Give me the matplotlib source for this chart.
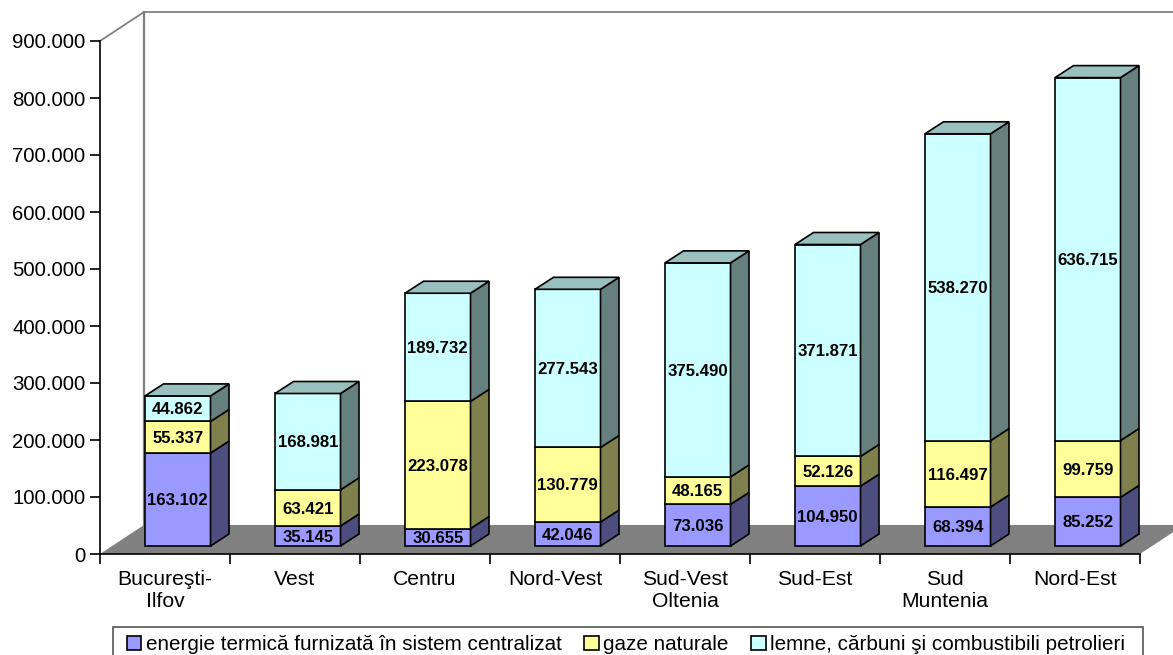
import matplotlib
matplotlib.use("Agg")
import matplotlib.pyplot as plt
from matplotlib.patches import Rectangle
from matplotlib.ticker import FuncFormatter

plt.rcParams['font.family'] = ['Liberation Sans', 'DejaVu Sans']

regions = ["Bucureşti-\nIlfov", "Vest", "Centru", "Nord-Vest", "Sud-Vest\nOltenia", "Sud-Est", "Sud\nMuntenia", "Nord-Est"]
termica = [163102, 35145, 30655, 42046, 73036, 104950, 68394, 85252]
gaze = [55337, 63421, 223078, 130779, 48165, 52126, 116497, 99759]
lemne = [44862, 168981, 189732, 277543, 375490, 371871, 538270, 636715]
series_names = ["energie termică furnizată în sistem centralizat", "gaze naturale", "lemne, cărbuni şi combustibili petrolieri"]
y_ticks = [0, 100000, 200000, 300000, 400000, 500000, 600000, 700000, 800000, 900000]

front_colors = ["#9999FF", "#FFFF99", "#CCFFFF"]
side_colors = ["#4D4D80", "#80804D", "#668080"]
top_color = "#99BFBF"

W, H = 1173, 655
X0, X1, Y0, Y1 = 100, 1140, 554, 41  # plot area in pixels
fig = plt.figure(figsize=(W / 100, H / 100), dpi=100)
ax = fig.add_axes([X0 / W, 1 - Y0 / H, (X1 - X0) / W, (Y0 - Y1) / H])
ax.set_xlim(0, len(regions))
ax.set_ylim(0, 900000)

# pixel sizes of the fake 3d, converted to data units
px_x = len(regions) / (X1 - X0)
px_y = 900000 / (Y0 - Y1)
wall_dx, wall_dy = 44 * px_x, 29 * px_y
bar_dx, bar_dy = 18.5 * px_x, 12 * px_y
lift = 8 * px_y
bar_w = 65.5 * px_x
shift = 45 * px_x

# floor and back wall
n = len(regions)
ax.fill([0, wall_dx, n + wall_dx, n], [0, wall_dy, wall_dy, 0], color="#808080", lw=0, clip_on=False, zorder=1)
ax.plot([0, wall_dx, n + wall_dx], [900000, 900000 + wall_dy, 900000 + wall_dy], color="#808080", lw=1.3, clip_on=False, zorder=1)
ax.plot([wall_dx, wall_dx], [wall_dy, 900000 + wall_dy], color="#808080", lw=1.6, clip_on=False, zorder=1)

# stacked bars, drawn by hand on the side and top
handles = []
bottoms = [lift] * n
for values, front, side, name in zip([termica, gaze, lemne], front_colors, side_colors, series_names):
    lefts = [i + shift for i in range(n)]
    bars = ax.bar(lefts, values, width=bar_w, bottom=bottoms, align="edge", color=front,
                  edgecolor="black", linewidth=1.2, zorder=3, label=name)
    handles.append(bars)
    for left, b, v in zip(lefts, bottoms, values):
        right = left + bar_w
        ax.fill([right, right + bar_dx, right + bar_dx, right],
                [b, b + bar_dy, b + v + bar_dy, b + v],
                facecolor=side, edgecolor="black", lw=1.2, zorder=3, clip_on=False)
        ax.text(left + bar_w / 2, b + v / 2 - 1.2 * px_y, f"{v:,}".replace(",", "."), ha="center", va="center",
                fontsize=12.1, fontweight="bold", color="black", zorder=5)
    bottoms = [b + v for b, v in zip(bottoms, values)]

# lid of each column
for i, top in enumerate(bottoms):
    left = i + shift
    ax.fill([left, left + bar_dx, left + bar_w + bar_dx, left + bar_w],
            [top, top + bar_dy, top + bar_dy, top],
            facecolor=top_color, edgecolor="black", lw=1.2, zorder=3, clip_on=False)

# axes
for s in ["top", "right"]:
    ax.spines[s].set_visible(False)
for s in ["left", "bottom"]:
    ax.spines[s].set_linewidth(1.2)
    ax.spines[s].set_zorder(2)
ax.set_yticks(y_ticks)
ax.yaxis.set_major_formatter(FuncFormatter(lambda v, p: f"{int(v):,}".replace(",", ".")))
ax.tick_params(axis="y", labelsize=14.7, length=7, width=1.2, pad=3.5)
ax.set_xticks(range(n + 1))
ax.set_xticklabels([])
ax.set_xticks([i + 0.5 for i in range(n)], minor=True)
ax.set_xticklabels(regions, minor=True, fontsize=15.2, linespacing=1.2)
ax.tick_params(axis="x", which="major", length=7, width=1.2)
ax.tick_params(axis="x", which="minor", length=0, pad=11.5)

# legend box runs off the bottom of the picture
fig.add_artist(Rectangle((113 / W, -0.01), 1030 / W, 1 - 627 / H + 0.01, transform=fig.transFigure,
                         facecolor="white", edgecolor="#555555", lw=1.2))
leg = fig.legend(handles=handles, loc="center left", bbox_to_anchor=(127 / W, 1 - 644.5 / H), ncol=3,
                 fontsize=14.9, frameon=False, borderaxespad=0, borderpad=0, handlelength=0.7,
                 handleheight=0.7, handletextpad=0.2, columnspacing=1.1)

fig.savefig("out.png", dpi=100)
